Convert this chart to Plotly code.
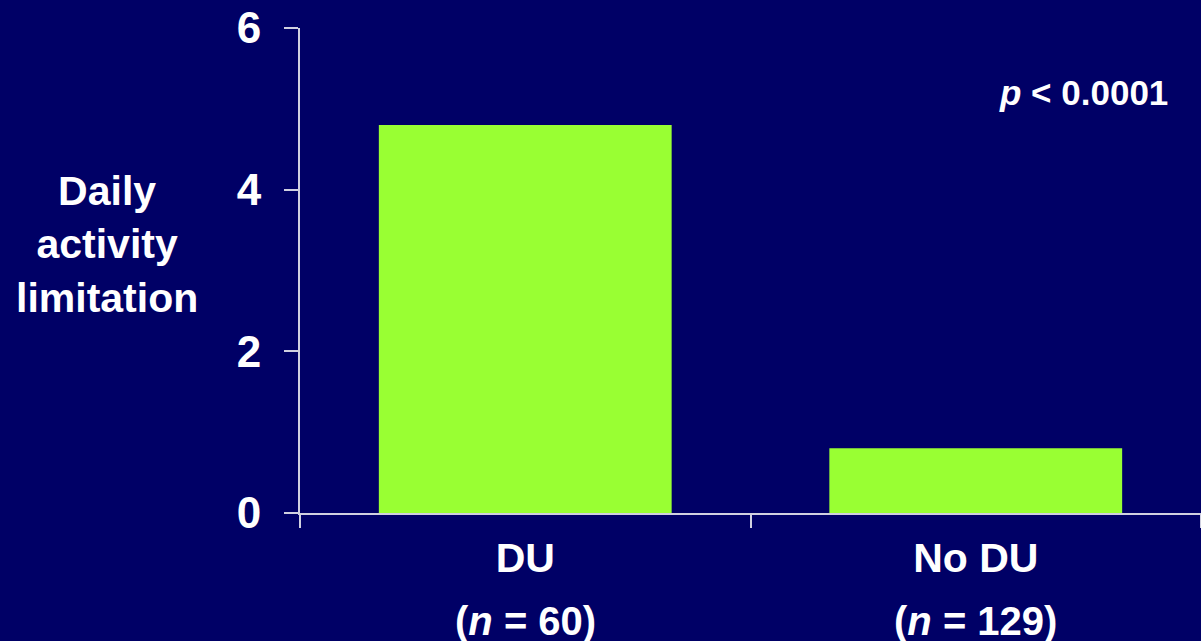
import plotly.graph_objects as go

categories = ["DU", "No DU"]
n_labels = ["60", "129"]
values = [4.8, 0.8]
y_ticks = [0, 2, 4, 6]
y_title = "Daily<br>activity<br>limitation"
p_text = "<i>p</i> < 0.0001"

BG = "#000066"
BAR = "#99FF33"
AXIS = "#D0D0E0"
FONT = "Liberation Sans, Arial, sans-serif"

fig = go.Figure()
fig.add_trace(go.Bar(
    x=categories, y=values, width=0.65,
    marker=dict(color=BAR, line=dict(width=0)),
))

fig.update_layout(
    width=1201, height=641,
    margin=dict(l=300, r=0, t=28, b=128),
    paper_bgcolor=BG, plot_bgcolor=BG,
    showlegend=False,
    font=dict(family=FONT, color="white", weight="bold"),
)
fig.update_xaxes(
    type="category", range=[-0.5, 1.5],
    tickson="boundaries",
    ticks="outside", ticklen=13, tickwidth=2, tickcolor=AXIS,
    showline=True, linecolor=AXIS, linewidth=2,
    showgrid=False, zeroline=False,
    tickfont=dict(size=41, family=FONT, color="white", weight="bold"),
    ticklabelstandoff=8,
)
fig.update_yaxes(
    range=[0, 6], tickmode="array", tickvals=y_ticks,
    ticktext=[str(v) for v in y_ticks],
    ticks="outside", ticklen=14, tickwidth=2, tickcolor=AXIS,
    showline=True, linecolor=AXIS, linewidth=2,
    showgrid=False, zeroline=False,
    tickfont=dict(size=44, family=FONT, color="white", weight="bold"),
    ticklabelstandoff=14,
)

for i, n in enumerate(n_labels):
    fig.add_annotation(
        x=categories[i], xref="x", y=-0.222, yref="paper",
        text=f"(<i>n</i> = {n})", showarrow=False,
        xanchor="center", yanchor="middle",
        font=dict(size=40, family=FONT, color="white", weight="bold"),
    )

fig.add_annotation(
    x=-0.214, xref="paper", y=3.32, yref="y",
    text=y_title, showarrow=False, xanchor="center", yanchor="middle",
    align="center",
    font=dict(size=41, family=FONT, color="white", weight="bold"),
)
fig.add_annotation(
    x=0.966, xref="paper", y=5.2, yref="y",
    text=p_text, showarrow=False, xanchor="right", yanchor="middle",
    font=dict(size=35, family=FONT, color="white", weight="bold"),
)

fig.write_html("out.html")
